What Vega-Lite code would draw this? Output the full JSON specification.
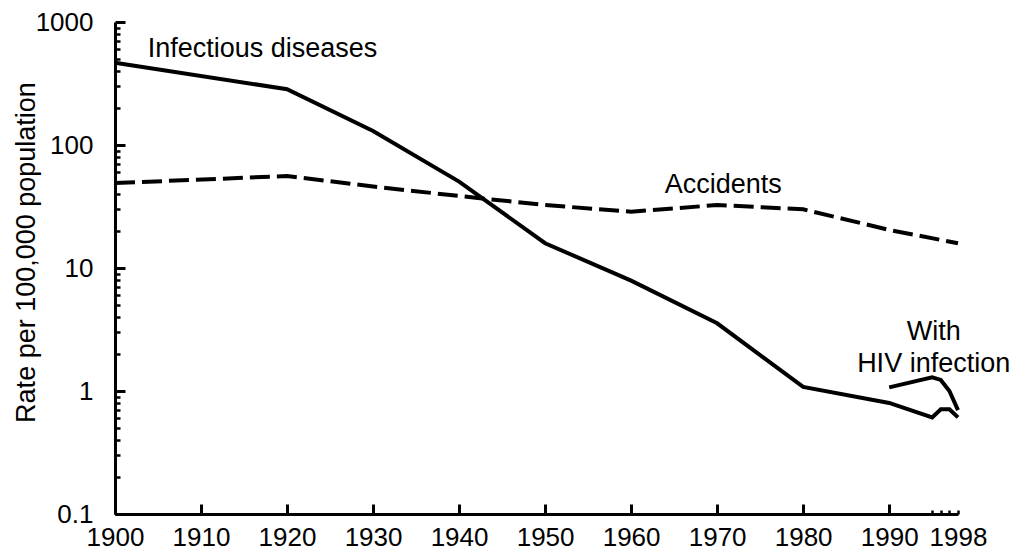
{
  "$schema": "https://vega.github.io/schema/vega-lite/v6.json",
  "width": 843,
  "height": 492,
  "autosize": "none",
  "padding": {"left": 115, "top": 22, "right": 58, "bottom": 41},
  "background": "#ffffff",
  "config": {
    "view": {"stroke": null},
    "font": "Liberation Sans",
    "axis": {
      "grid": false,
      "domainColor": "#000000",
      "tickColor": "#000000",
      "labelColor": "#000000",
      "titleColor": "#000000",
      "labelFont": "Liberation Sans",
      "titleFont": "Liberation Sans"
    }
  },
  "layer": [
    {
      "data": {
        "values": [
          {"series": "Infectious diseases", "year": 1900, "rate": 467},
          {"series": "Infectious diseases", "year": 1920, "rate": 284},
          {"series": "Infectious diseases", "year": 1930, "rate": 130},
          {"series": "Infectious diseases", "year": 1940, "rate": 50.4},
          {"series": "Infectious diseases", "year": 1950, "rate": 15.9},
          {"series": "Infectious diseases", "year": 1960, "rate": 7.9},
          {"series": "Infectious diseases", "year": 1970, "rate": 3.55},
          {"series": "Infectious diseases", "year": 1980, "rate": 1.08},
          {"series": "Infectious diseases", "year": 1990, "rate": 0.8},
          {"series": "Infectious diseases", "year": 1995, "rate": 0.61},
          {"series": "Infectious diseases", "year": 1996, "rate": 0.71},
          {"series": "Infectious diseases", "year": 1997, "rate": 0.71},
          {"series": "Infectious diseases", "year": 1998, "rate": 0.61},
          {"series": "With HIV infection", "year": 1990, "rate": 1.07},
          {"series": "With HIV infection", "year": 1995, "rate": 1.29},
          {"series": "With HIV infection", "year": 1996, "rate": 1.23},
          {"series": "With HIV infection", "year": 1997, "rate": 1.0},
          {"series": "With HIV infection", "year": 1998, "rate": 0.7}
        ]
      },
      "mark": {"type": "line", "color": "#000000", "strokeWidth": 4, "strokeCap": "butt", "strokeJoin": "miter"},
      "encoding": {
        "x": {
          "field": "year",
          "type": "quantitative",
          "scale": {"domain": [1900, 1998], "nice": false, "zero": false},
          "axis": {
            "orient": "bottom",
            "values": [1900, 1910, 1920, 1930, 1940, 1950, 1960, 1970, 1980, 1990, 1998],
            "format": "d",
            "labelFontSize": 26,
            "ticks": false,
            "tickSize": 0,
            "domainWidth": 3,
            "labelPadding": 10,
            "labelFlush": false,
            "labelOverlap": false,
            "title": null
          }
        },
        "y": {
          "field": "rate",
          "type": "quantitative",
          "scale": {"type": "log", "domain": [0.1, 1000], "nice": false},
          "axis": {
            "orient": "left",
            "values": [0.1, 1, 10, 100, 1000],
            "format": "~g",
            "labelFontSize": 26,
            "ticks": false,
            "tickSize": 0,
            "domainWidth": 3,
            "labelPadding": 22,
            "labelFlush": false,
            "labelOverlap": false,
            "title": "Rate per 100,000 population",
            "titleFontSize": 27,
            "titleFontWeight": "normal",
            "titleX": -75,
            "titleY": 230
          }
        },
        "detail": {"field": "series"}
      }
    },
    {
      "data": {
        "values": [
          {"series": "Accidents", "year": 1900, "rate": 49},
          {"series": "Accidents", "year": 1920, "rate": 56},
          {"series": "Accidents", "year": 1930, "rate": 46},
          {"series": "Accidents", "year": 1940, "rate": 38.5},
          {"series": "Accidents", "year": 1950, "rate": 32.5},
          {"series": "Accidents", "year": 1960, "rate": 28.7},
          {"series": "Accidents", "year": 1970, "rate": 32.5},
          {"series": "Accidents", "year": 1980, "rate": 30},
          {"series": "Accidents", "year": 1990, "rate": 20.4},
          {"series": "Accidents", "year": 1998, "rate": 15.9}
        ]
      },
      "mark": {"type": "line", "color": "#000000", "strokeWidth": 4, "strokeCap": "butt", "strokeJoin": "miter", "strokeDash": [20, 7]},
      "encoding": {
        "x": {
          "field": "year",
          "type": "quantitative",
          "scale": {"domain": [1900, 1998], "nice": false, "zero": false},
          "axis": {
            "orient": "bottom",
            "values": [1900, 1910, 1920, 1930, 1940, 1950, 1960, 1970, 1980, 1990],
            "labels": false,
            "domain": false,
            "offset": -10,
            "tickSize": 10,
            "tickWidth": 3,
            "title": null
          }
        },
        "y": {
          "field": "rate",
          "type": "quantitative",
          "scale": {"type": "log", "domain": [0.1, 1000], "nice": false},
          "axis": {
            "orient": "left",
            "values": [0.1, 1, 10, 100, 1000],
            "labels": false,
            "domain": false,
            "offset": -10,
            "tickSize": 10,
            "tickWidth": 3,
            "title": null
          }
        }
      }
    },
    {
      "data": {
        "values": [
          {"label": "Infectious diseases", "year": 1917.15, "rate": 519},
          {"label": "Accidents", "year": 1970.7, "rate": 40.7},
          {"label": "With", "year": 1995.17, "rate": 2.6},
          {"label": "HIV infection", "year": 1995.17, "rate": 1.427}
        ]
      },
      "mark": {"type": "text", "fontSize": 27, "align": "center", "baseline": "alphabetic", "color": "#000000", "font": "Liberation Sans"},
      "encoding": {
        "x": {
          "field": "year",
          "type": "quantitative",
          "scale": {"domain": [1900, 1998], "nice": false, "zero": false},
          "axis": {
            "orient": "bottom",
            "values": [1995, 1996, 1997, 1998],
            "labels": false,
            "domain": false,
            "offset": -4,
            "tickSize": 4,
            "tickWidth": 2.5,
            "title": null
          }
        },
        "y": {
          "field": "rate",
          "type": "quantitative",
          "scale": {"type": "log", "domain": [0.1, 1000], "nice": false},
          "axis": {
            "orient": "left",
            "values": [0.2, 0.3, 0.4, 0.5, 0.6, 0.7, 0.8, 0.9, 2, 3, 4, 5, 6, 7, 8, 9, 20, 30, 40, 50, 60, 70, 80, 90, 200, 300, 400, 500, 600, 700, 800, 900],
            "labels": false,
            "domain": false,
            "offset": -5,
            "tickSize": 5,
            "tickWidth": 2.5,
            "title": null
          }
        },
        "text": {"field": "label"}
      }
    }
  ],
  "resolve": {"axis": {"x": "independent", "y": "independent"}}
}
